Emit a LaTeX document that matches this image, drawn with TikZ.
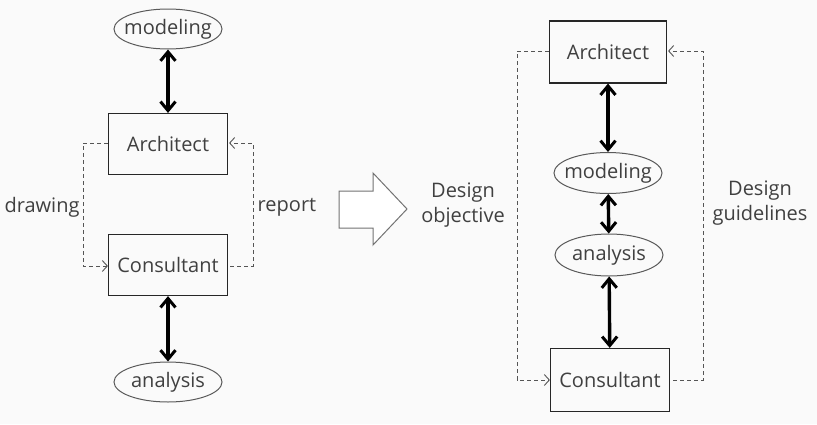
\documentclass[tikz,border=0pt]{standalone}
\usepackage{fontspec}
\setmainfont{Open Sans}
\usetikzlibrary{arrows.meta,shapes.geometric}
\definecolor{bg}{HTML}{FAFAFA}
\definecolor{txt}{HTML}{404040}
\definecolor{dash}{HTML}{555555}
\newcommand{\ovaltext}[1]{\makebox[60pt]{#1}}
\begin{document}
\begin{tikzpicture}[x=1pt,y=-1pt,
  every node/.style={font=\fontsize{20}{23}\selectfont, text=txt},
  rolebox/.style={draw=black!85, line width=1.2pt, minimum width=119pt, minimum height=61pt, inner sep=0pt},
  oval/.style={ellipse, draw=black!65, line width=1pt, minimum width=108pt, minimum height=40pt, inner sep=0pt},
  thick2/.style={line width=3.4pt, {Straight Barb[length=9pt,width=15pt,line width=3pt]}-{Straight Barb[length=9pt,width=15pt,line width=3pt]}},
  dashline/.style={draw=dash, line width=0.9pt, dash pattern=on 4pt off 3pt, -{Straight Barb[length=5pt,width=11pt,line width=0.9pt]}},
  lbl/.style={align=center, font=\fontsize{20}{25}\selectfont}
]
\fill[bg] (0,0) rectangle (817,424);
\useasboundingbox (0,0) rectangle (817,424);

% left diagram
\node[oval] (m1) at (168,29) {\ovaltext{modeling}};
\node[rolebox] (a1) at (168,144) {Architect};
\node[rolebox] (c1) at (168,265) {Consultant};
\node[oval] (an1) at (168,382) {\ovaltext{analysis}};
\draw[thick2] (m1) -- (a1);
\draw[thick2] (c1) -- (an1);
\coordinate (dl1) at (83,143);
\coordinate (dl2) at (83,266);
\coordinate (dr1) at (253,266);
\coordinate (dr2) at (253,143);
\draw[dashline] (a1.west |- dl1) -- (dl1) -- (dl2) -- (c1.west |- dl2);
\draw[dashline] ([xshift=2pt]c1.east |- dr1) -- (dr1) -- (dr2) -- ([xshift=1pt]a1.east |- dr2);
\node (drw) at (42,207) {drawing};
\node (rep) at (287,207) {report};

% big block arrow
\draw[draw=black!55, line width=1pt, fill=white, line join=miter]
  (339,191) -- (373,191) -- (373,173) -- (407,209) -- (373,245) -- (373,228) -- (339,228) -- cycle;

% right diagram
\node[rolebox, minimum width=117pt, minimum height=62pt] (a2) at (608,52) {Architect};
\node[oval, minimum height=41pt] (m2) at (608,173) {\ovaltext{modeling}};
\node[oval, minimum height=42pt] (an2) at (609,255) {\ovaltext{analysis}};
\node[rolebox, minimum width=119pt, minimum height=63pt] (c2) at (610,380) {Consultant};
\draw[thick2] (a2) -- (m2);
\draw[thick2] (m2) -- (an2);
\draw[thick2] (an2) -- (c2);
\coordinate (el1) at (517,51);
\coordinate (el2) at (517,380);
\coordinate (er1) at (703,380);
\coordinate (er2) at (703,51);
\draw[dashline] (a2.west |- el1) -- (el1) -- (el2) -- (c2.west |- el2);
\draw[dashline] ([xshift=3pt]c2.east |- er1) -- (er1) -- (er2) -- ([xshift=1pt]a2.east |- er2);
\node[lbl] (obj) at (463,205) {Design\\objective};
\node[lbl] (gui) at (760,203) {Design\\guidelines};
\end{tikzpicture}
\end{document}
